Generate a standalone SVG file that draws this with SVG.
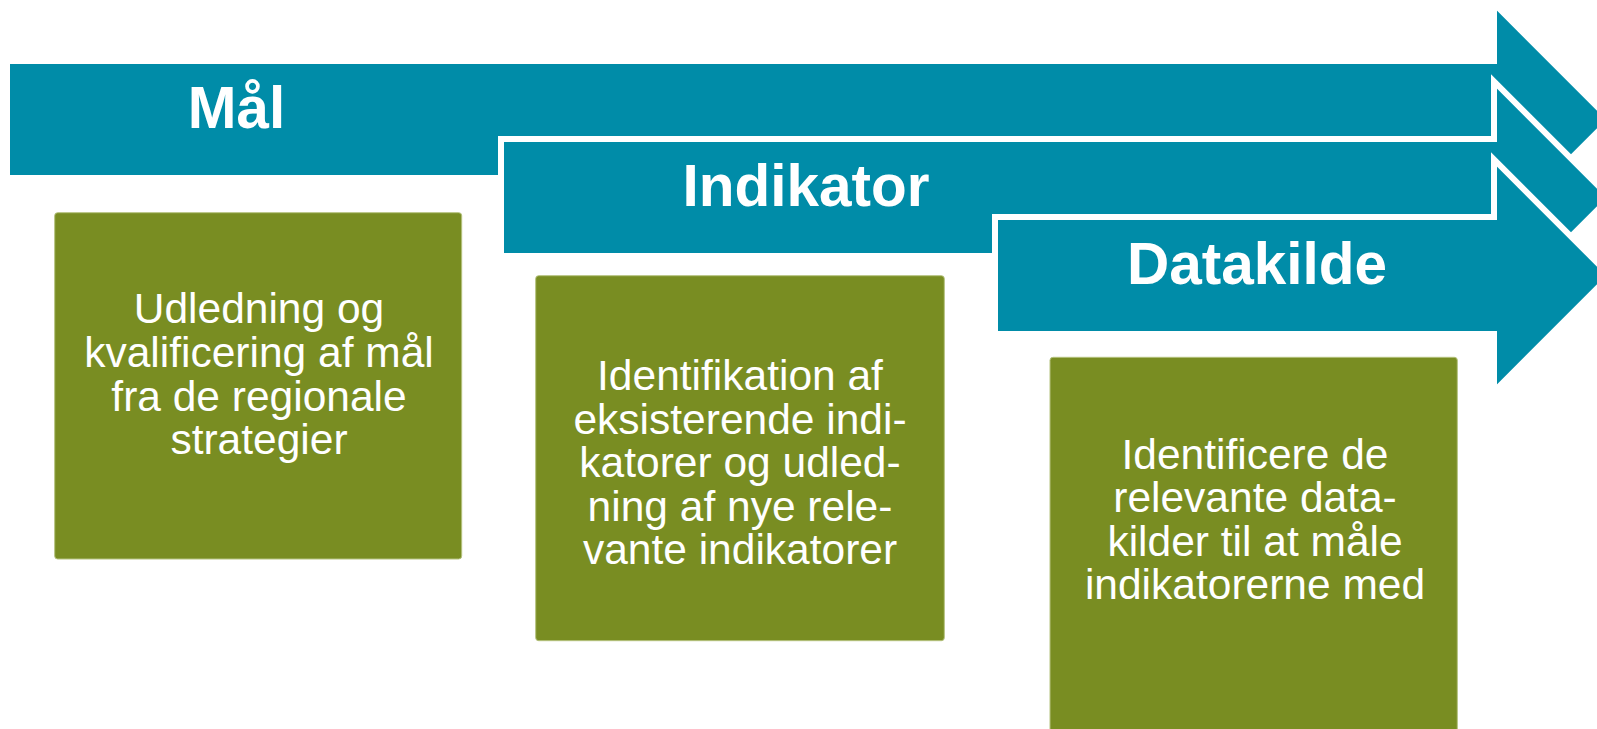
<svg xmlns="http://www.w3.org/2000/svg" width="1597" height="729" viewBox="0 0 1597 729">
<style>
.arrow{fill:#008CA8;stroke:#FFFFFF;stroke-width:6;stroke-linejoin:miter}
.box{fill:#798D22;stroke:#B5C27E;stroke-width:1}
.title{font-family:"Liberation Sans",Arial,sans-serif;font-weight:bold;font-size:58.5px;fill:#FFFFFF;text-anchor:middle}
.body{font-family:"Liberation Sans",Arial,sans-serif;font-size:42.5px;fill:#FFFFFF;text-anchor:middle}
</style>
<rect width="1597" height="729" fill="#FFFFFF"/>
<g id="arrow-maal">
<path class="arrow" d="M7,61 H1494 V3.5 L1610,119.5 L1494,235.5 V178 H7 Z"/>
<text class="title" x="236.5" y="127.5">Mål</text>
</g>
<g id="arrow-indikator">
<path class="arrow" d="M501,139 H1494 V81.5 L1610,197.5 L1494,313.5 V256 H501 Z"/>
<text class="title" x="806" y="205.5">Indikator</text>
</g>
<g id="arrow-datakilde">
<path class="arrow" d="M995,217 H1494 V159.5 L1610,275.5 L1494,391.5 V334 H995 Z"/>
<text class="title" x="1257" y="283.5">Datakilde</text>
</g>
<g id="box-maal">
<rect class="box" x="54.7" y="212.7" width="407" height="346.3" rx="3"/>
<text class="body" x="259"><tspan x="259" y="323.3">Udledning og</tspan><tspan x="259" y="366.9">kvalificering af mål</tspan><tspan x="259" y="410.5">fra de regionale</tspan><tspan x="259" y="454.1">strategier</tspan></text>
</g>
<g id="box-indikator">
<rect class="box" x="535.7" y="275.7" width="408.6" height="365" rx="3"/>
<text class="body" x="740"><tspan x="740" y="390">Identifikation af</tspan><tspan x="740" y="433.6">eksisterende indi-</tspan><tspan x="740" y="477.2">katorer og udled-</tspan><tspan x="740" y="520.8">ning af nye rele-</tspan><tspan x="740" y="564.4">vante indikatorer</tspan></text>
</g>
<g id="box-datakilde">
<rect class="box" x="1050" y="357.3" width="407.3" height="380" rx="3"/>
<text class="body" x="1255"><tspan x="1255" y="468.5">Identificere de</tspan><tspan x="1255" y="512">relevante data-</tspan><tspan x="1255" y="555.5">kilder til at måle</tspan><tspan x="1255" y="599">indikatorerne med</tspan></text>
</g>
<g id="connectors"></g>
</svg>
